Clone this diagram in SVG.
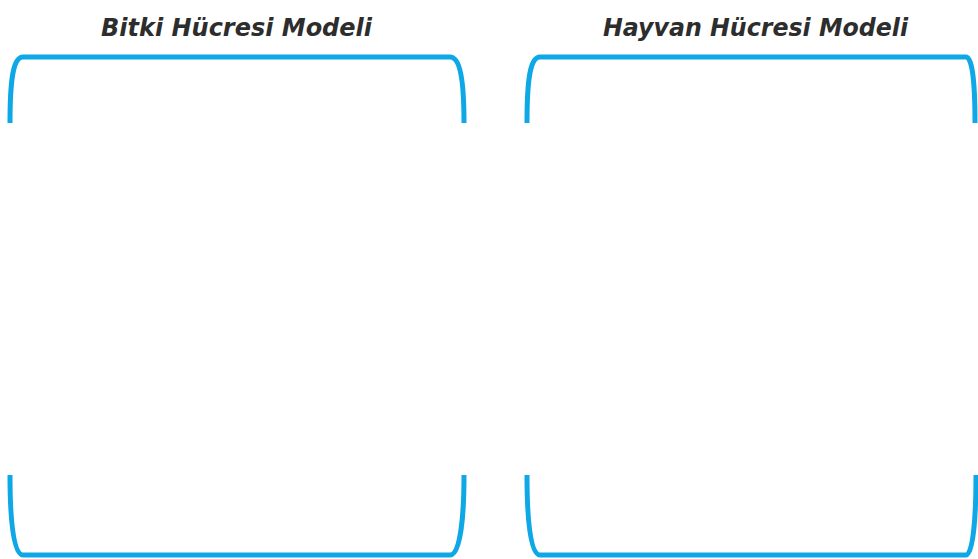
<svg xmlns="http://www.w3.org/2000/svg" width="978" height="559" viewBox="0 0 978 559">
<style>
.br{fill:none;stroke:#0fa8e6;stroke-width:5;stroke-linecap:butt;stroke-linejoin:round}
.t{font-family:"DejaVu Sans","Liberation Sans",sans-serif;font-weight:bold;font-style:italic;font-size:25px;fill:#2d2d2d}
</style>
<rect width="978" height="559" fill="#fff"/>
<g id="plant">
<text class="t" x="101" y="36" textLength="271" lengthAdjust="spacingAndGlyphs">Bitki Hücresi Modeli</text>
<path class="br" d="M10,123 C10,80 13,57 23,57 L450,57 C460,57 464,80 464,123"/>
<path class="br" d="M10,475 C10,518 13,555 23,555 L450,555 C460,555 464,518 464,475"/>
</g>
<g id="animal">
<text class="t" x="603" y="36" textLength="305" lengthAdjust="spacingAndGlyphs">Hayvan Hücresi Modeli</text>
<path class="br" d="M527,123 C527,80 530,57 540,57 L966,57 C972,57 975,80 975,123"/>
<path class="br" d="M527,475 C527,518 530,555 540,555 L966,555 C973,555 976,518 976,475"/>
</g>
<g id="connectors"></g>
</svg>
